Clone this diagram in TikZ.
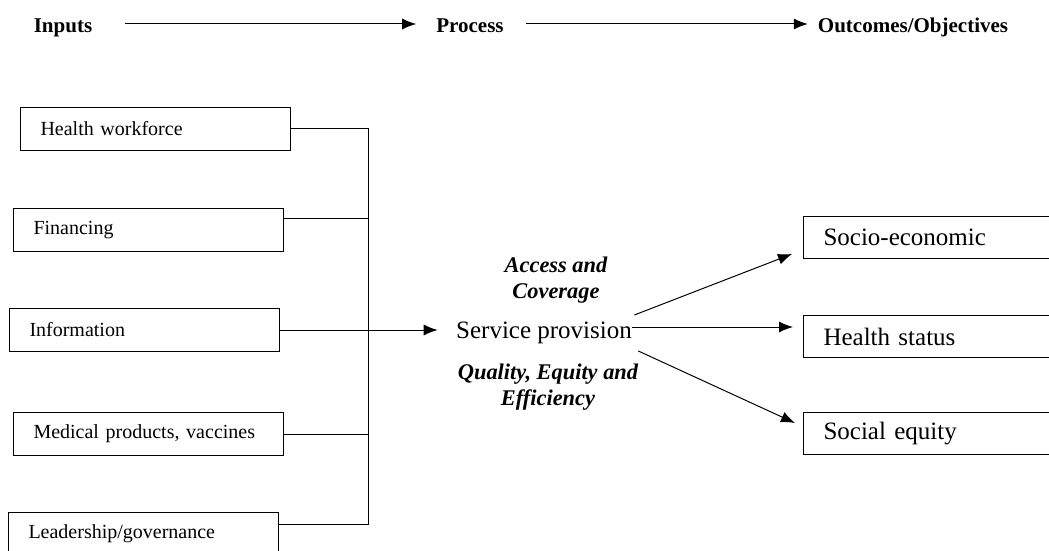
\documentclass[tikz,border=0pt]{standalone}
\usepackage{fontspec}
\setmainfont{Liberation Serif}
\usetikzlibrary{arrows.meta, calc}

\begin{document}
\begin{tikzpicture}[x=0.5pt, y=-0.5pt, line width=0.5pt,
	arr/.style={-{Latex[length=7pt,width=5.5pt]}},
	head/.style={anchor=base, font=\fontsize{10.5}{12}\selectfont\bfseries},
	inbox/.style={draw, anchor=north west, text width=115pt, inner xsep=10pt, inner ysep=0pt, minimum height=21.5pt, align=left, font=\fontsize{10}{12}\selectfont},
	outbox/.style={draw, anchor=north west, text width=140pt, inner xsep=10pt, inner ysep=0pt, minimum height=21pt, align=left, font=\fontsize{12.5}{15}\selectfont},
	note/.style={align=center, font=\fontsize{11.2}{13}\selectfont\bfseries\itshape}]
	\useasboundingbox (0,0) rectangle (1049,551);
	\clip (0,0) rectangle (1049,551);
	
	% header row
	\node[head] (inputs) at (63,33) {Inputs};
	\node[head] (process) at (470,33) {Process};
	\node[head] (outcomes) at (913,33) {Outcomes/Objectives};
	\draw[arr, shorten <=13pt, shorten >=6.5pt] ([yshift=4.5pt]inputs.base east) -- ([yshift=4.5pt]process.base west);
	\draw[arr, shorten <=7.5pt, shorten >=1.5pt] ([yshift=4.5pt]process.base east) -- ([yshift=4.5pt]outcomes.base west);
	
	% inputs
	\node[inbox] (hw) at (20,107) {Health workforce};
	\node[inbox] (fin) at (13,208) {Financing};
	\node[inbox] (info) at (9,308) {Information};
	\node[inbox] (med) at (13,412) {Medical products, vaccines};
	\node[inbox] (lead) at (8,512) {Leadership/governance};
	
	% joining line
	\coordinate (bus) at (368,0);
	\coordinate (fj) at ([yshift=6pt]fin.east);
	\coordinate (lj) at ([yshift=5pt]lead.east);
	\draw (hw.east) -| (bus |- lj) -- (lj);
	\draw (fj) -- (fj -| bus);
	\draw (med.east) -- (med.east -| bus);
	
	% process
	\node[anchor=base, font=\fontsize{12.5}{15}\selectfont, inner xsep=0pt] (serv) at (544,338) {Service provision};
	\node[note] (access) at (556,280) {Access and\\Coverage};
	\node[note] (quality) at (548,387) {Quality, Equity and\\Efficiency};
	\coordinate (sm) at ([yshift=5.5pt]serv.base east);
	\draw[arr, shorten >=9pt] (info.east) -- (info.east -| serv.west);
	
	% outcomes
	\node[outbox] (soc) at (803,216) {Socio-economic};
	\node[outbox] (hs) at (803,315) {Health status};
	\node[outbox] (se) at (803,412) {Social equity};
	\draw[arr] ([xshift=1pt,yshift=11.5pt]serv.base east) -- ([xshift=-5.5pt,yshift=2.5pt]soc.south west);
	\draw[arr, shorten >=5pt] (sm) -- (sm -| hs.west);
	\draw[arr] ([xshift=3pt,yshift=-6.5pt]serv.base east) -- ([xshift=-4pt,yshift=-5.5pt]se.north west);
\end{tikzpicture}
\end{document}
